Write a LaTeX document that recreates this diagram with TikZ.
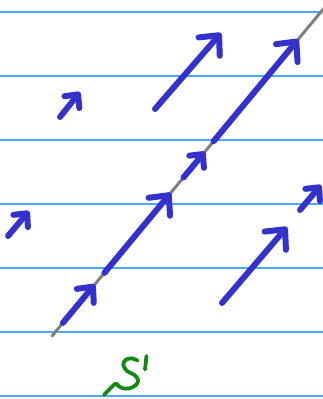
\documentclass[tikz,border=0pt]{standalone}
\usepackage{tikz}
\usetikzlibrary{arrows.meta,calc}
\definecolor{RuleBlue}{HTML}{4DA8FA}
\definecolor{InkBlue}{HTML}{3333CC}
\definecolor{InkGray}{HTML}{808080}
\definecolor{InkGreen}{HTML}{138A13}

\begin{document}
\begin{tikzpicture}[
  x=1pt,y=-1pt,line cap=round,line join=round,
  rule/.style={draw=RuleBlue,line width=1.4pt},
  axis/.style={draw=InkGray,line width=3pt},
  vecbig/.style={draw=InkBlue,line width=6pt,
    -{Straight Barb[length=15pt,width=28pt,round]}},
  vecmid/.style={draw=InkBlue,line width=6pt,
    -{Straight Barb[length=12pt,width=22pt,round]}},
  vecsmall/.style={draw=InkBlue,line width=6pt,
    -{Straight Barb[length=10pt,width=19pt,round]}},
  ink/.style={draw=InkGreen,line width=3.8pt}
]
\useasboundingbox (0,0) rectangle (323,399);

% ruled paper
\foreach \y in {12,76,140,204,268,332,396}
  \draw[rule] (0,\y) -- (323,\y);

% the line and the arrows laid along it
\coordinate (base) at (52,336);
\coordinate (top) at (325,7);
\draw[axis] (base) -- (top);
\draw[vecmid]   ($(base)!0.040!(top)$) -- ($(base)!0.157!(top)$);
\draw[vecbig]   ($(base)!0.192!(top)$) -- ($(base)!0.435!(top)$);
\draw[vecsmall] ($(base)!0.482!(top)$) -- ($(base)!0.560!(top)$);
\draw[vecbig]   ($(base)!0.592!(top)$) -- ($(base)!0.902!(top)$);

% free arrows
\coordinate (a0) at (60,117);  \coordinate (a1) at (80,92);
\coordinate (b0) at (155,109); \coordinate (b1) at (221,33);
\coordinate (c0) at (8,236);   \coordinate (c1) at (29,211);
\coordinate (d0) at (300,210); \coordinate (d1) at (321,185);
\coordinate (e0) at (222,303); \coordinate (e1) at (287,227);
\draw[vecsmall] (a0) -- (a1);
\draw[vecbig]   (b0) -- (b1);
\draw[vecsmall] (c0) -- (c1);
\draw[vecsmall] (d0) -- (d1);
\draw[vecbig]   (e0) -- (e1);

% hand-written S
\draw[ink] plot[smooth,tension=0.6] coordinates {
  (104,395) (115,384) (118,385.5) (122,388) (129,388.5) (136,385)
  (138,380) (134.5,375) (127,371) (123.3,365) (125.5,360) (131.7,358.3)
  (137.5,360.5)};
\draw[ink] (146.5,356) -- (145,369.5);
\end{tikzpicture}
\end{document}
